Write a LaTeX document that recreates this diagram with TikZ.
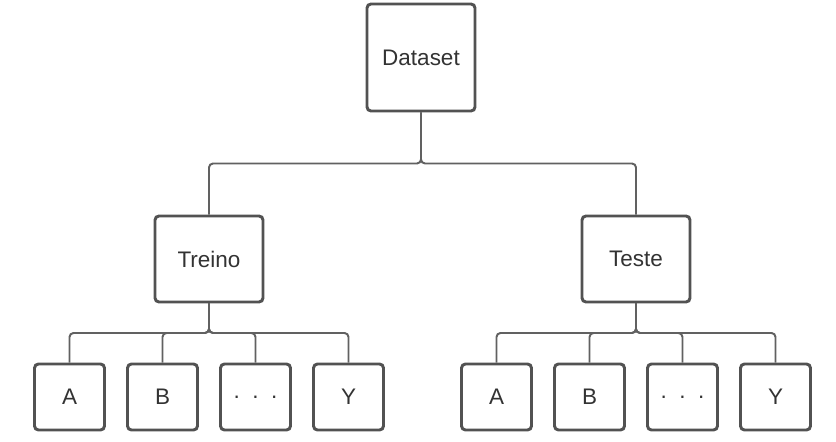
\documentclass[tikz,border=0pt]{standalone}
\usepackage{fontspec}
\setmainfont{Liberation Sans}
\usetikzlibrary{calc}

\begin{document}
\begin{tikzpicture}[
    box/.style={draw=black!68, line width=2.1pt, rounded corners=0.1cm, fill=white,
      text=black!80, font=\fontsize{16}{19}\selectfont, align=center,
      minimum width=2.7cm, minimum height=2.15cm, inner sep=0pt},
    leaf/.style={box, minimum width=1.75cm, minimum height=1.65cm},
    link/.style={draw=black!62, line width=1.4pt, rounded corners=0.1cm}
  ]

    % Canvas
    \useasboundingbox (0,0) rectangle (20.9,11.025);

    % Root
    \node[box, minimum height=2.675cm] (dataset) at (10.525, 9.5875) {Dataset};

    % Split
    \node[box] (treino) at (5.225, 4.55) {Treino};
    \node[box] (teste) at (15.9, 4.55) {Teste};

    % Classes of each split
    \foreach \lab [count=\i] in {A, B, {.\ \ .\ \ .}, Y} {
      \node[leaf] (tr\i) at ({5.225+(\i-2.5)*2.325}, 1.1) {\lab};
      \node[leaf] (te\i) at ({15.9+(\i-2.5)*2.325}, 1.1) {\lab};
    }

    % Tree connectors
    \foreach \split in {treino, teste} {
      \draw[link] (dataset.south) |- ($(dataset.south)!0.5!(\split.north)$) -| (\split.north);
    }
    \foreach \i in {1,...,4} {
      \draw[link] (treino.south) |- ($(treino.south)!0.5!(tr\i.north)$) -| (tr\i.north);
      \draw[link] (teste.south) |- ($(teste.south)!0.5!(te\i.north)$) -| (te\i.north);
    }

  \end{tikzpicture}
\end{document}
